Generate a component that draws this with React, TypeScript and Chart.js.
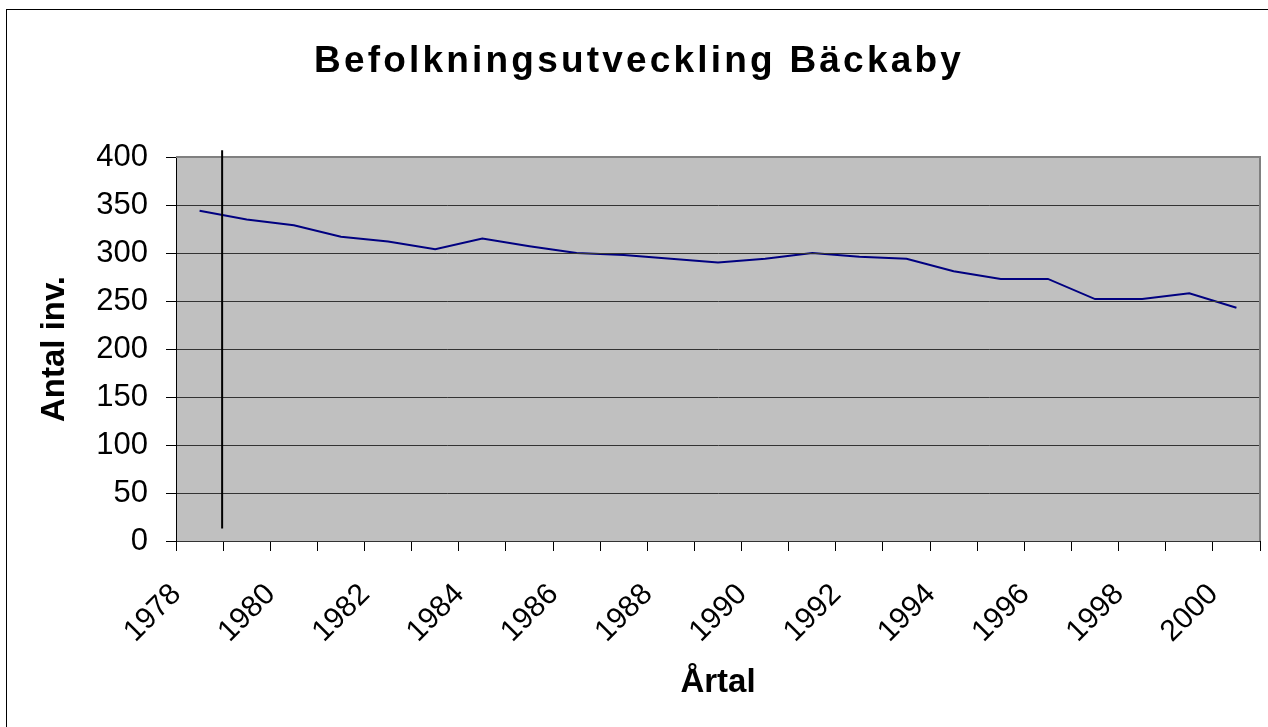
import React, { useEffect, useRef } from 'react';
import { Chart, registerables } from 'chart.js';

Chart.register(...registerables);

// ---- data ----
const years: string[] = [
  '1978', '1979', '1980', '1981', '1982', '1983', '1984', '1985', '1986', '1987', '1988', '1989',
  '1990', '1991', '1992', '1993', '1994', '1995', '1996', '1997', '1998', '1999', '2000',
];
const population: number[] = [
  344, 335, 329, 317, 312, 304, 315, 307, 300, 298, 294, 290,
  294, 300, 296, 294, 281, 273, 273, 252, 252, 258, 243,
];
const yMin = 0;
const yMax = 400;
const yStep = 50;
// hand-drawn vertical marker between the first two categories (value range)
const markerBetween: [number, number] = [0, 1];
const markerRange: [number, number] = [13, 407];

const titleText = 'Befolkningsutveckling Bäckaby';
const xTitle = 'Årtal';
const yTitle = 'Antal inv.';

const FONT = '"Liberation Sans", Arial, Helvetica, sans-serif';

const decorPlugin = {
  id: 'decor',
  beforeDraw(chart: any) {
    const { ctx, chartArea: a } = chart;
    ctx.save();
    ctx.fillStyle = '#ffffff';
    ctx.fillRect(0, 0, chart.width, chart.height);
    ctx.strokeStyle = '#000000';
    ctx.lineWidth = 1;
    ctx.strokeRect(6.5, 9.5, chart.width + 10, chart.height + 10);
    ctx.fillStyle = '#C0C0C0';
    ctx.fillRect(a.left, a.top, a.right - a.left, a.bottom - a.top);
    ctx.restore();
    // wide letter spacing for the title (drawn before the datasets)
    ctx.letterSpacing = '3.2px';
  },
  beforeDatasetsDraw(chart: any) {
    chart.ctx.letterSpacing = '0px';
  },
  afterDraw(chart: any) {
    const { ctx, chartArea: a, scales } = chart;
    ctx.save();
    ctx.letterSpacing = '0px';
    // plot-area border (top & right)
    ctx.strokeStyle = '#808080';
    ctx.lineWidth = 2;
    ctx.beginPath();
    ctx.moveTo(a.left, a.top);
    ctx.lineTo(a.right, a.top);
    ctx.lineTo(a.right, a.bottom);
    ctx.stroke();
    // vertical marker line
    const x =
      (scales.x.getPixelForValue(markerBetween[0]) + scales.x.getPixelForValue(markerBetween[1])) / 2 - 1;
    ctx.strokeStyle = '#000000';
    ctx.lineWidth = 2;
    ctx.beginPath();
    ctx.moveTo(x, scales.y.getPixelForValue(markerRange[1]));
    ctx.lineTo(x, scales.y.getPixelForValue(markerRange[0]));
    ctx.stroke();
    ctx.restore();
  },
};

export default function App() {
  const ref = useRef<HTMLCanvasElement>(null);

  useEffect(() => {
    if (!ref.current) return;
    const chart = new Chart(ref.current, {
      type: 'line',
      data: {
        labels: years,
        datasets: [
          {
            label: 'Antal inv.',
            data: population,
            borderColor: '#000080',
            backgroundColor: '#000080',
            borderWidth: 2,
            pointRadius: 0,
            tension: 0,
            fill: false,
          },
        ],
      },
      options: {
        animation: false,
        responsive: false,
        devicePixelRatio: 1,
        layout: { padding: { left: 10, right: 0, top: 0, bottom: 0 } },
        plugins: {
          legend: { display: false },
          tooltip: { enabled: false },
          title: {
            display: true,
            text: titleText,
            color: '#000000',
            font: { family: FONT, size: 37, weight: 'bold' },
            padding: { top: 40, bottom: 72.6 },
          },
        },
        scales: {
          x: {
            type: 'category',
            offset: true,
            afterFit: (s: any) => {
              s.height = 186;
              s.paddingLeft = 0;
              s.paddingRight = 8;
            },
            grid: {
              offset: true,
              drawOnChartArea: false,
              drawTicks: true,
              tickLength: 10,
              color: '#000000',
              z: 1,
            },
            border: { display: true, color: '#000000', width: 1, z: 1 },
            ticks: {
              autoSkip: false,
              minRotation: 45,
              maxRotation: 45,
              padding: 26,
              labelOffset: -23,
              color: '#000000',
              font: { family: FONT, size: 30 },
              z: 1,
              callback: (_v: any, i: number) => (Number(years[i]) % 2 === 0 ? years[i] : ''),
            },
            title: {
              display: true,
              text: xTitle,
              color: '#000000',
              font: { family: FONT, size: 33, weight: 'bold' },
              padding: { top: 0, bottom: 24 },
            },
          },
          y: {
            min: yMin,
            max: yMax,
            afterFit: (s: any) => {
              s.width = 166;
            },
            grid: {
              color: '#333333',
              lineWidth: 1,
              drawTicks: true,
              tickLength: 10,
              tickColor: '#000000',
              z: 1,
            },
            border: { display: true, color: '#000000', width: 1, z: 1 },
            ticks: {
              stepSize: yStep,
              padding: 18,
              color: '#000000',
              font: { family: FONT, size: 31 },
              z: 1,
            },
            title: {
              display: true,
              text: yTitle,
              color: '#000000',
              font: { family: FONT, size: 33, weight: 'bold' },
              padding: { top: 25.2, bottom: 0 },
            },
          },
        },
      },
      plugins: [decorPlugin],
    } as any);
    return () => chart.destroy();
  }, []);

  return (
    <div style={{ position: 'absolute', left: 0, top: 0, width: 1268, height: 727, background: '#fff' }}>
      <canvas ref={ref} width={1268} height={727} style={{ display: 'block' }} />
    </div>
  );
}
